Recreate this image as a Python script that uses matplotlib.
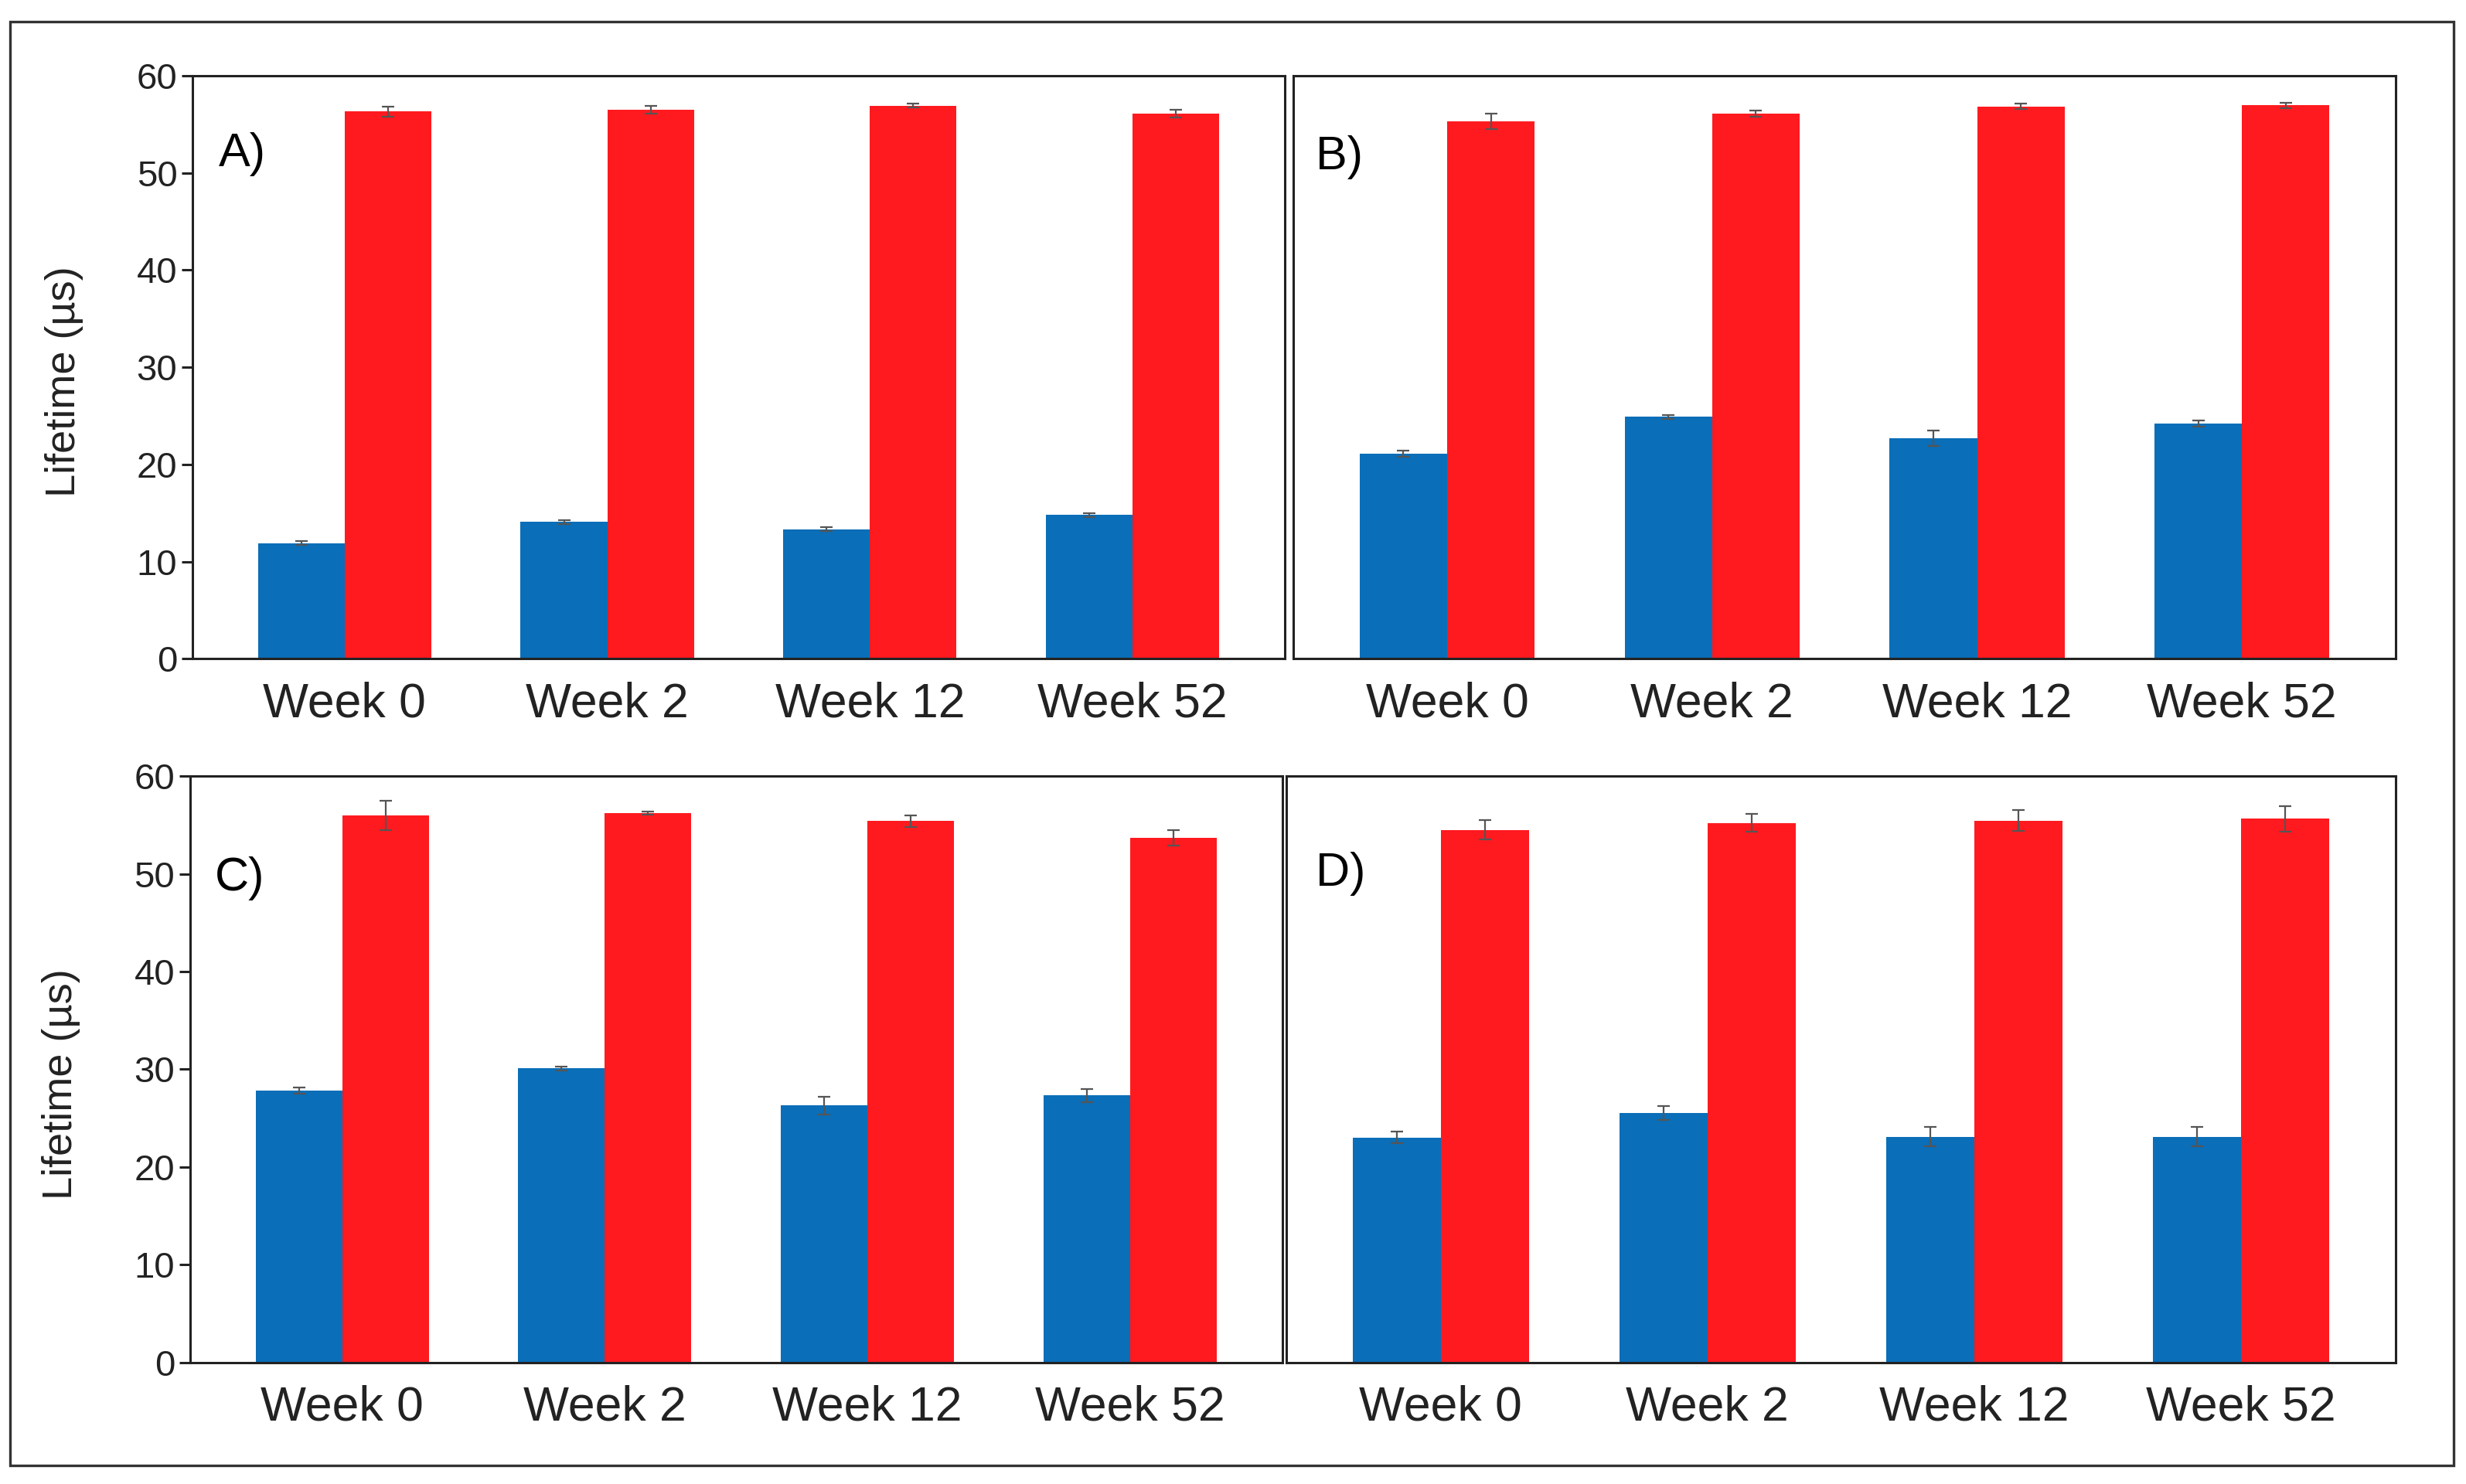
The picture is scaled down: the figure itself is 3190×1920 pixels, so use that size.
import numpy as np
import matplotlib
matplotlib.use('Agg')
import matplotlib.pyplot as plt
from matplotlib.patches import Rectangle

plt.rcParams['font.family'] = ['Liberation Sans', 'DejaVu Sans']

weeks = ['Week 0', 'Week 2', 'Week 12', 'Week 52']
panels = ['A)', 'B)', 'C)', 'D)']

# blue series (first bar of each pair) and red series, with error bars
a_blue = [11.9, 14.1, 13.35, 14.8]
a_blue_err = [0.2, 0.2, 0.2, 0.2]
a_red = [56.3, 56.5, 56.9, 56.1]
a_red_err = [0.5, 0.4, 0.2, 0.4]

b_blue = [21.1, 24.9, 22.7, 24.2]
b_blue_err = [0.3, 0.2, 0.8, 0.3]
b_red = [55.3, 56.1, 56.85, 56.95]
b_red_err = [0.8, 0.3, 0.3, 0.3]

c_blue = [27.8, 30.1, 26.3, 27.3]
c_blue_err = [0.3, 0.2, 0.9, 0.7]
c_red = [56.0, 56.2, 55.4, 53.7]
c_red_err = [1.5, 0.15, 0.6, 0.8]

d_blue = [23.0, 25.5, 23.1, 23.1]
d_blue_err = [0.6, 0.7, 1.0, 1.0]
d_red = [54.5, 55.2, 55.45, 55.65]
d_red_err = [1.0, 0.9, 1.05, 1.3]

blues = [a_blue, b_blue, c_blue, d_blue]
blue_errs = [a_blue_err, b_blue_err, c_blue_err, d_blue_err]
reds = [a_red, b_red, c_red, d_red]
red_errs = [a_red_err, b_red_err, c_red_err, d_red_err]

blue_col = '#0A6EB8'
red_col = '#FF1A1F'
ink = '#222222'

fig = plt.figure(figsize=(31.9, 19.2), dpi=100)
fig.patch.set_facecolor('white')

# outer frame
fig.patches.append(Rectangle((0.004, 0.0125), 0.991, 0.973, transform=fig.transFigure,
                             fill=False, edgecolor='#333333', linewidth=2.4))

boxes = [[0.078, 0.556, 0.443, 0.393],
         [0.5245, 0.556, 0.447, 0.393],
         [0.077, 0.082, 0.443, 0.395],
         [0.5215, 0.082, 0.450, 0.395]]
lab_pos = [(0.024, 0.865), (0.02, 0.86), (0.023, 0.826), (0.027, 0.834)]

x = np.arange(len(weeks))
w = 0.33

for i in range(4):
    ax = fig.add_axes(boxes[i])
    ax.bar(x - w/2, blues[i], w, color=blue_col, yerr=blue_errs[i],
           error_kw=dict(ecolor='#555555', elinewidth=1.6, capsize=6, capthick=1.6), zorder=2)
    ax.bar(x + w/2, reds[i], w, color=red_col, yerr=red_errs[i],
           error_kw=dict(ecolor='#555555', elinewidth=1.6, capsize=6, capthick=1.6), zorder=2)
    ax.set_xlim(-0.58, 3.58)
    ax.set_ylim(0, 60)
    ax.set_xticks(x)
    ax.set_xticklabels(weeks, fontsize=45, color=ink)
    ax.tick_params(axis='x', length=0, pad=21)
    for s in ax.spines.values():
        s.set_linewidth(2.2)
        s.set_color(ink)
    if i in (0, 2):
        ax.set_yticks(np.arange(0, 61, 10))
        ax.tick_params(axis='y', length=10, width=2.2, color=ink, labelsize=34,
                       labelcolor=ink, pad=4)
        ax.set_ylabel('Lifetime (µs)', fontsize=39, color=ink)
        ax.yaxis.set_label_coords(-0.1, 0.475)
    else:
        ax.set_yticks([])
    ax.text(lab_pos[i][0], lab_pos[i][1], panels[i], transform=ax.transAxes,
            fontsize=44, color='black', va='center', ha='left')

plt.savefig('out.png', dpi=100)
plt.close()
